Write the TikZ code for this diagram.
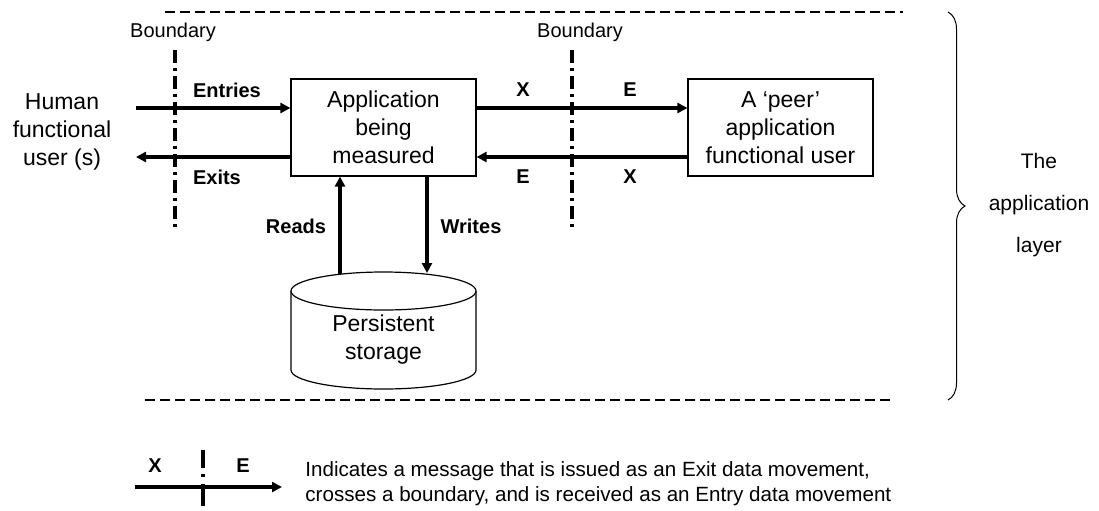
\documentclass[tikz,border=0pt]{standalone}
\usepackage{fontspec}
\setmainfont{Liberation Sans}
\usetikzlibrary{arrows.meta,decorations.pathreplacing}

\tikzset{
  box/.style={draw, line width=0.6pt, minimum width=92.5pt, minimum height=48.5pt,
    align=center, font=\fontsize{11.5}{14}\selectfont},
  txt/.style={align=center, font=\fontsize{11.5}{14}\selectfont},
  flow/.style={line width=1.6pt, -{Triangle[length=5pt,width=5pt]}},
  boundary/.style={line width=1.6pt, dash pattern=on 6.5pt off 2.5pt on 1.5pt off 2.5pt},
  layerline/.style={line width=1pt, dash pattern=on 5pt off 2.5pt},
  lbl/.style={font=\fontsize{10}{12}\selectfont\bfseries},
  bndlbl/.style={font=\fontsize{10}{12}\selectfont},
}

\begin{document}
\begin{tikzpicture}[x=0.5pt,y=-0.5pt]
    \useasboundingbox (0,0) rectangle (1099,510);

    % Limiti del livello
    \coordinate (topL) at (165,12);
    \coordinate (topR) at (903,12);
    \coordinate (botL) at (145,400);
    \coordinate (botR) at (890,400);
    \draw[layerline] (topL) -- (topR);
    \draw[layerline] (botL) -- (botR);

    % Utente umano
    \node[txt] (human) at (62,132) {Human\\functional\\user (s)};

    % Applicazioni
    \node[box] (app) at (383.5,127.5) {Application\\being\\measured};
    \node[box] (peer) at (780.5,127.5) {A `peer'\\application\\functional user};

    % Confini
    \node[bndlbl] (bndA) at (173,32) {Boundary};
    \node[bndlbl] (bndB) at (580,32) {Boundary};
    \coordinate (bA1) at (175,50);
    \coordinate (bA2) at (175,230);
    \coordinate (bB1) at (572,50);
    \coordinate (bB2) at (572,230);
    \draw[boundary] (bA1) -- (bA2);
    \draw[boundary] (bB1) -- (bB2);

    % Frecce
    \coordinate (huin) at (136,108);
    \coordinate (huout) at (136,157);
    \draw[flow] (huin) -- (huin -| app.west);
    \draw[flow] (app.west |- huout) -- (huout);
    \draw[flow] (app.east |- huin) -- (peer.west |- huin);
    \draw[flow] (peer.west |- huout) -- (app.east |- huout);

    \node[lbl, anchor=west] (entries) at (186,90) {Entries};
    \node[lbl, anchor=west] (exits) at (186,177) {Exits};
    \node[lbl] (xout) at (523,90) {X};
    \node[lbl] (ein) at (630,90) {E};
    \node[lbl] (eback) at (523,177) {E};
    \node[lbl] (xback) at (630,177) {X};

    % Memoria persistente
    \draw[line width=0.6pt] (383.5,291) ellipse [x radius=92.5, y radius=19];
    \draw[line width=0.6pt] (291,291) -- (291,370)
        arc[start angle=180, end angle=0, x radius=92.5, y radius=19] -- (476,291);
    \node[txt] (store) at (383.5,340) {Persistent\\storage};

    \coordinate (rd) at (340,274);
    \coordinate (wr) at (427,273);
    \draw[flow] (rd) -- (rd |- app.south);
    \draw[flow] (wr |- app.south) -- (wr);
    \node[lbl] (reads) at (296,226) {Reads};
    \node[lbl] (writes) at (471,226) {Writes};

    % Graffa
    \draw[line width=0.5pt, decorate, decoration={brace, amplitude=8.5pt}] (948,12) -- (948,400);
    \node[align=center, font=\fontsize{10.5}{21}\selectfont] (layer) at (1039,205) {The\\application\\layer};

    % Legenda
    \coordinate (lgs) at (135,487);
    \coordinate (lge) at (282,487);
    \coordinate (lgt) at (203,450);
    \coordinate (lgb) at (203,506);
    \draw[flow] (lgs) -- (lge);
    \draw[line width=1.6pt, dash pattern=on 9pt off 3pt on 1.5pt off 3.5pt on 12pt] (lgt) -- (lgb);
    \node[lbl] (lgx) at (155,466) {X};
    \node[lbl] (lge2) at (243,466) {E};
    \node[anchor=west, inner sep=0pt, align=left, font=\fontsize{10.3}{12.5}\selectfont] (legend) at (305,484)
        {Indicates a message that is issued as an Exit data movement,\\crosses a boundary, and is received as an Entry data movement};
\end{tikzpicture}
\end{document}
